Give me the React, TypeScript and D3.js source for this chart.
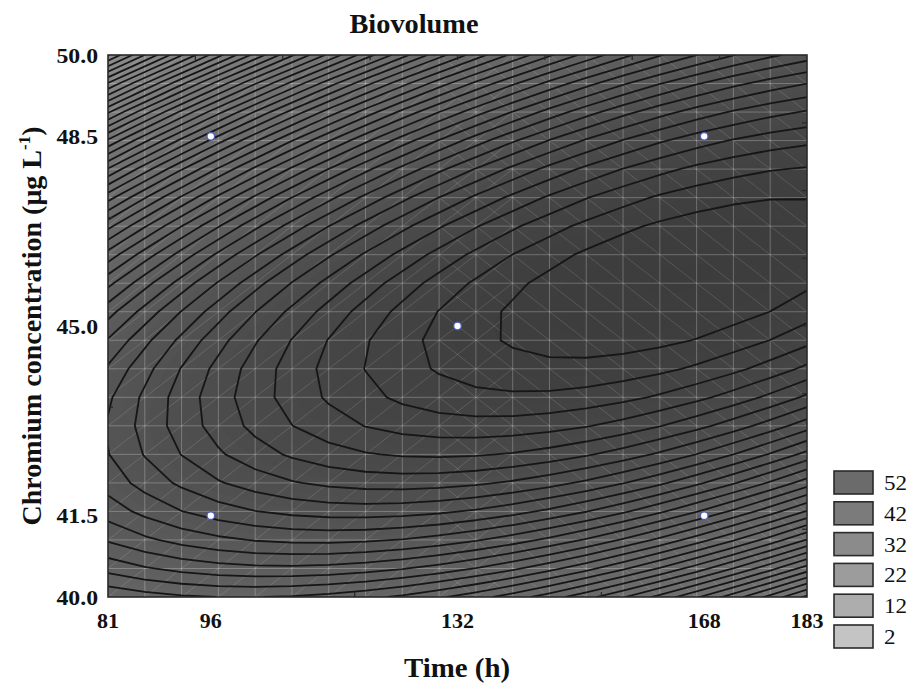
import React, { useMemo } from "react";
import * as d3 from "d3";

// ---- data ----
const TIME_DOMAIN = [81, 183];
const CONC_DOMAIN = [40, 50];
const TIME_TICKS = [81, 96, 132, 168, 183];
const CONC_TICKS = [40.0, 41.5, 45.0, 48.5, 50.0];
const TIME_INNER_TICKS = [117, 153];
const CONC_INNER_TICKS = [43.5, 47.0];
const DESIGN_TIME = [96, 96, 132, 168, 168];
const DESIGN_CONC = [48.5, 41.5, 45.0, 48.5, 41.5];
// fitted quadratic response surface in coded units: b0, bT, bC, bTT, bCC, bTC
const MODEL_COEF = [72.5, 3.72, -1.13, -2.91, -8.97, 6.17];
const CODING_CENTER = [132, 45];
const CODING_STEP = [36, 3.5];
const CONTOUR_LEVELS = [
  20, 21, 22, 23, 24, 25, 26, 27, 28, 29, 30, 31, 32, 33, 34, 35, 36, 37, 38, 39,
  40, 41, 42, 43, 44, 45, 46, 47, 48, 49, 50, 51, 52, 53, 54, 55, 56, 57, 58, 59,
  60, 61, 62, 63, 64, 65, 66, 67, 68, 69, 70, 71, 72, 73,
];
const LEGEND_VALUES = [52, 42, 32, 22, 12, 2];
const LEGEND_COLORS = ["#6b6b6b", "#7b7b7b", "#8b8b8b", "#9c9c9c", "#adadad", "#c4c4c4"];
const SHADE_VALUES = [20, 29, 42, 57, 74];
const SHADE_COLORS = ["#a4a4a4", "#8e8e8e", "#777777", "#666666", "#3c3c3c"];

const W = 913;
const H = 683;
const L = 108;
const R = 807;
const T = 55;
const B = 597;
const GRID_N = 20;
const FILL_N = 110;
const SERIF = "'Liberation Serif', 'Times New Roman', serif";

function surface(t: number, c: number) {
  const u = (t - CODING_CENTER[0]) / CODING_STEP[0];
  const v = (c - CODING_CENTER[1]) / CODING_STEP[1];
  const [b0, b1, b2, b11, b22, b12] = MODEL_COEF;
  return b0 + b1 * u + b2 * v + b11 * u * u + b22 * v * v + b12 * u * v;
}

export default function App() {
  const x = d3.scaleLinear().domain(TIME_DOMAIN).range([L, R]);
  const y = d3.scaleLinear().domain(CONC_DOMAIN).range([B, T]);
  const shade = d3
    .scaleLinear<string>()
    .domain(SHADE_VALUES)
    .range(SHADE_COLORS)
    .clamp(true);

  const built = useMemo(() => {
    const grid = (n: number) => {
      const vals: number[] = new Array(n * n);
      for (let j = 0; j < n; j++) {
        const c = CONC_DOMAIN[1] - (j * (CONC_DOMAIN[1] - CONC_DOMAIN[0])) / (n - 1);
        for (let i = 0; i < n; i++) {
          const t = TIME_DOMAIN[0] + (i * (TIME_DOMAIN[1] - TIME_DOMAIN[0])) / (n - 1);
          vals[j * n + i] = surface(t, c);
        }
      }
      return vals;
    };
    const pathFor = (n: number) => {
      const cw = (R - L) / (n - 1);
      const ch = (B - T) / (n - 1);
      return d3.geoPath(
        d3.geoTransform({
          point(px: number, py: number) {
            (this as any).stream.point(L + (px - 0.5) * cw, T + (py - 0.5) * ch);
          },
        })
      );
    };
    const coarse = grid(GRID_N);
    const lines = d3.contours().size([GRID_N, GRID_N]).thresholds(CONTOUR_LEVELS)(coarse);
    const fine = grid(FILL_N);
    const bandLevels = d3.range(18, 74.5, 0.5);
    const bands = d3.contours().size([FILL_N, FILL_N]).thresholds(bandLevels)(fine);
    return {
      lines: lines.map((g) => pathFor(GRID_N)(g as any) || ""),
      bands: bands.map((g) => ({ d: pathFor(FILL_N)(g as any) || "", v: g.value + 0.25 })),
    };
  }, []);

  const cellW = (R - L) / (GRID_N - 1);
  const cellH = (B - T) / (GRID_N - 1);
  const mesh: JSX.Element[] = [];
  for (let i = 1; i < GRID_N - 1; i++) {
    mesh.push(<line key={"v" + i} x1={L + i * cellW} x2={L + i * cellW} y1={T} y2={B} />);
    mesh.push(<line key={"h" + i} x1={L} x2={R} y1={T + i * cellH} y2={T + i * cellH} />);
  }
  const diag: JSX.Element[] = [];
  for (let i = 0; i < GRID_N - 1; i++) {
    for (let j = 0; j < GRID_N - 1; j++) {
      const x0 = L + i * cellW;
      const y0 = T + j * cellH;
      if (i <= 10)
        diag.push(<line key={`a${i}-${j}`} x1={x0} y1={y0 + cellH} x2={x0 + cellW} y2={y0} />);
      if (i >= 9)
        diag.push(<line key={`b${i}-${j}`} x1={x0} y1={y0} x2={x0 + cellW} y2={y0 + cellH} />);
    }
  }

  const topTicks = d3.range(1, 8).map((k) => L + (k * (R - L)) / 8);
  const rightTicks = d3.range(1, 8).map((k) => T + (k * (B - T)) / 8);
  const axisColor = "#2a2a2a";

  return (
    <svg
      width={W}
      height={H}
      style={{ position: "absolute", left: 0, top: 0, background: "#fff" }}
      fontFamily={SERIF}
    >
      <defs>
        <clipPath id="plotClip">
          <rect x={L} y={T} width={R - L} height={B - T} />
        </clipPath>
      </defs>
      <g clipPath="url(#plotClip)">
        <rect x={L} y={T} width={R - L} height={B - T} fill={shade(18)} />
        {built.bands.map((b, k) => (
          <path key={k} d={b.d} fill={shade(b.v)} />
        ))}
        <g stroke="#ffffff" strokeOpacity={0.32} strokeWidth={0.8}>
          {mesh}
        </g>
        <g stroke="#ffffff" strokeOpacity={0.2} strokeWidth={0.7}>
          {diag}
        </g>
        <g fill="none" stroke="#161616" strokeWidth={1.8} strokeLinejoin="round">
          {built.lines.map((d, k) => (
            <path key={k} d={d} />
          ))}
        </g>
      </g>
      {/* frame */}
      <rect x={L} y={T} width={R - L} height={B - T} fill="none" stroke={axisColor} strokeWidth={1.6} />
      <g stroke={axisColor} strokeWidth={1.3}>
        {topTicks.map((tx, k) => (
          <line key={"tt" + k} x1={tx} x2={tx} y1={T} y2={T + 5} />
        ))}
        {rightTicks.map((ty, k) => (
          <line key={"rt" + k} x1={R} x2={R - 5} y1={ty} y2={ty} />
        ))}
        {TIME_INNER_TICKS.map((t) => (
          <line key={"bt" + t} x1={x(t)} x2={x(t)} y1={B} y2={B - 5} />
        ))}
        {CONC_INNER_TICKS.map((c) => (
          <line key={"lt" + c} x1={L} x2={L + 5} y1={y(c)} y2={y(c)} />
        ))}
      </g>
      {/* design points */}
      {DESIGN_TIME.map((t, k) => (
        <circle
          key={"p" + k}
          cx={x(t)}
          cy={y(DESIGN_CONC[k])}
          r={3.8}
          fill="#ffffff"
          stroke="#4a5cb8"
          strokeWidth={1.3}
        />
      ))}
      {/* tick labels */}
      <g fontWeight="bold" fontSize={22} fill="#111">
        {TIME_TICKS.map((t) => (
          <text key={"xl" + t} x={x(t)} y={628} textAnchor="middle">
            {String(t)}
          </text>
        ))}
        {CONC_TICKS.map((c) => (
          <text
            key={"yl" + c}
            transform={`translate(98,${y(c) + 7.5}) scale(1.08,1)`}
            textAnchor="end"
          >
            {c.toFixed(1)}
          </text>
        ))}
      </g>
      {/* titles */}
      <text
        transform={`translate(414,33) scale(1.05,1)`}
        textAnchor="middle"
        fontWeight="bold"
        fontSize={27}
        fill="#111"
      >
        Biovolume
      </text>
      <text
        transform={`translate(457,677) scale(1.05,1)`}
        textAnchor="middle"
        fontWeight="bold"
        fontSize={27.5}
        fill="#111"
      >
        Time (h)
      </text>
      <text
        transform={`translate(41,${(T + B) / 2}) rotate(-90)`}
        textAnchor="middle"
        fontWeight="bold"
        fontSize={28}
        fill="#111"
      >
        Chromium concentration (μg L
        <tspan fontSize={17} dy={-11}>-1</tspan>
        <tspan dy={11}>)</tspan>
      </text>
      {/* legend */}
      {LEGEND_VALUES.map((v, k) => (
        <g key={"lg" + v} transform={`translate(834,${471 + k * 30.8})`}>
          <rect width={39} height={23} fill={LEGEND_COLORS[k]} stroke="#2a2a2a" strokeWidth={1.6} />
          <text transform={`translate(50,19) scale(1.1,1)`} fontSize={21} fill="#111">
            {String(v)}
          </text>
        </g>
      ))}
    </svg>
  );
}
